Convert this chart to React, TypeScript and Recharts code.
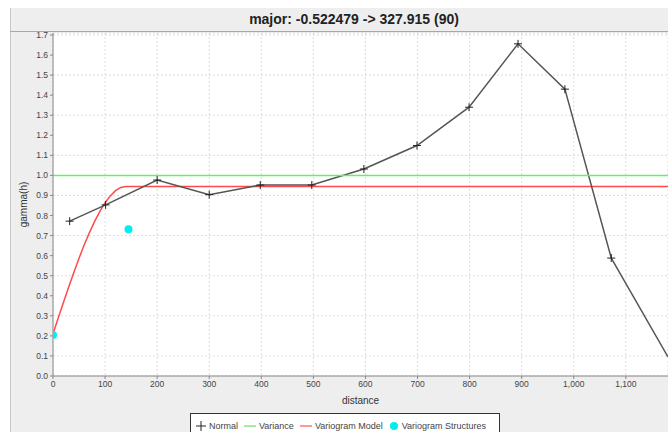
import {
  ComposedChart,
  Line,
  Scatter,
  XAxis,
  YAxis,
  CartesianGrid,
} from "recharts";

const normalDistance = [32, 101, 200, 300, 398, 497, 597, 699, 799, 893, 983, 1072, 1181];
const normalGamma = [0.772, 0.853, 0.977, 0.904, 0.952, 0.952, 1.032, 1.149, 1.34, 1.656, 1.43, 0.588, 0.095];

const varianceDistance = [0, 1181];
const varianceGamma = [1.0, 1.0];

const modelDistance = [0, 10, 20, 30, 40, 50, 60, 70, 80, 90, 100, 110, 120, 130, 140, 1181];
const modelGamma = [0.21, 0.289, 0.366, 0.443, 0.516, 0.587, 0.654, 0.715, 0.771, 0.821, 0.864, 0.898, 0.924, 0.94, 0.945, 0.945];

const structureDistance = [0, 145];
const structureGamma = [0.205, 0.732];

const xTicks = [0, 100, 200, 300, 400, 500, 600, 700, 800, 900, 1000, 1100];
const yTicks = [0, 0.1, 0.2, 0.3, 0.4, 0.5, 0.6, 0.7, 0.8, 0.9, 1.0, 1.1, 1.2, 1.3, 1.4, 1.5, 1.6, 1.7];

const toRows = (xs: number[], ys: number[]) => xs.map((x, i) => ({ x, y: ys[i] }));

const normalData = toRows(normalDistance, normalGamma);
const varianceData = toRows(varianceDistance, varianceGamma);
const modelData = toRows(modelDistance, modelGamma);
const structureData = toRows(structureDistance, structureGamma);

const font = '"Liberation Sans", Arial, sans-serif';

function Cross(props: any) {
  const { cx, cy, index } = props;
  if (index === normalData.length - 1 || cx == null) return <g key={`c${index}`} />;
  return (
    <path
      key={`c${index}`}
      d={`M${cx - 4},${cy}H${cx + 4}M${cx},${cy - 4}V${cy + 4}`}
      stroke="#222"
      strokeWidth={1}
      fill="none"
    />
  );
}

function CyanDot(props: any) {
  const { cx, cy } = props;
  return <circle cx={cx} cy={cy} r={4} fill="#00eeee" />;
}

export default function App() {
  const tick = { fontSize: 8.5, fill: "#444", fontFamily: font };
  return (
    <div
      style={{
        position: "fixed",
        left: 8,
        top: 8,
        width: 660,
        height: 424,
        background: "#fff",
        overflow: "hidden",
        fontFamily: font,
      }}
    >
      <div
        style={{
          position: "absolute",
          left: 2,
          top: 0,
          width: 658,
          height: 424,
          background: "#eeeeee",
          borderLeft: "1px solid #c8c8c8",
        }}
      />
      <div
        style={{
          position: "absolute",
          left: 2,
          top: 0,
          width: 658,
          height: 24,
          borderBottom: "1px solid #a8a8a8",
          textAlign: "center",
          lineHeight: "23px",
          fontWeight: "bold",
          fontSize: 14,
          color: "#222",
          paddingLeft: 30,
          boxSizing: "border-box",
        }}
      >
        major: -0.522479 -&gt; 327.915 (90)
      </div>
      <div style={{ position: "absolute", left: 0, top: 0 }}>
        <ComposedChart
          width={660}
          height={424}
          margin={{ top: 25, right: 0, left: 0, bottom: 26 }}
        >
          <CartesianGrid stroke="#dcdcdc" strokeDasharray="2 2" fill="#fff" />
          <XAxis
            type="number"
            dataKey="x"
            domain={[0, 1181]}
            ticks={xTicks}
            allowDataOverflow
            height={30}
            tick={tick}
            tickSize={3}
            tickMargin={2}
            stroke="#888"
            tickFormatter={(v: number) => v.toLocaleString("en-US")}
            label={{
              value: "distance",
              position: "insideBottom",
              offset: 2,
              style: { fontSize: 10, fill: "#333", fontFamily: font },
            }}
          />
          <YAxis
            type="number"
            dataKey="y"
            domain={[0, 1.71]}
            ticks={yTicks}
            allowDataOverflow
            width={45}
            tick={tick}
            tickSize={3}
            tickMargin={2}
            stroke="#888"
            tickFormatter={(v: number) => v.toFixed(1)}
            label={{
              value: "gamma(h)",
              angle: -90,
              position: "insideLeft",
              offset: 15,
              style: { fontSize: 10, fill: "#333", fontFamily: font, textAnchor: "middle" },
            }}
          />
          <Line
            data={modelData}
            dataKey="y"
            type="linear"
            stroke="#ff4a4a"
            strokeWidth={1.5}
            dot={false}
            isAnimationActive={false}
          />
          <Line
            data={normalData}
            dataKey="y"
            type="linear"
            stroke="#555"
            strokeWidth={1.5}
            dot={Cross}
            activeDot={false}
            isAnimationActive={false}
          />
          <Line
            data={varianceData}
            dataKey="y"
            type="linear"
            stroke="#66ee66"
            strokeWidth={1.5}
            dot={false}
            isAnimationActive={false}
          />
          <Scatter data={structureData} dataKey="y" shape={CyanDot} isAnimationActive={false} />
        </ComposedChart>
      </div>
      <div
        style={{
          position: "absolute",
          left: 182,
          top: 405,
          width: 310,
          height: 26,
          background: "#fff",
          border: "1px solid #333",
          boxSizing: "border-box",
          display: "flex",
          alignItems: "center",
          paddingLeft: 5,
          fontSize: 9,
          color: "#444",
          whiteSpace: "nowrap",
        }}
      >
        <svg width={10} height={10} style={{ marginRight: 3 }}>
          <path d="M0,5H10M5,0V10" stroke="#222" strokeWidth={1} />
        </svg>
        <span style={{ marginRight: 6 }}>Normal</span>
        <svg width={12} height={10} style={{ marginRight: 3 }}>
          <path d="M0,5H12" stroke="#44dd44" strokeWidth={1} />
        </svg>
        <span style={{ marginRight: 6 }}>Variance</span>
        <svg width={12} height={10} style={{ marginRight: 3 }}>
          <path d="M0,5H12" stroke="#ff3333" strokeWidth={1} />
        </svg>
        <span style={{ marginRight: 6 }}>Variogram Model</span>
        <svg width={10} height={10} style={{ marginRight: 3 }}>
          <circle cx={5} cy={5} r={4} fill="#00eeee" />
        </svg>
        <span>Variogram Structures</span>
      </div>
    </div>
  );
}
